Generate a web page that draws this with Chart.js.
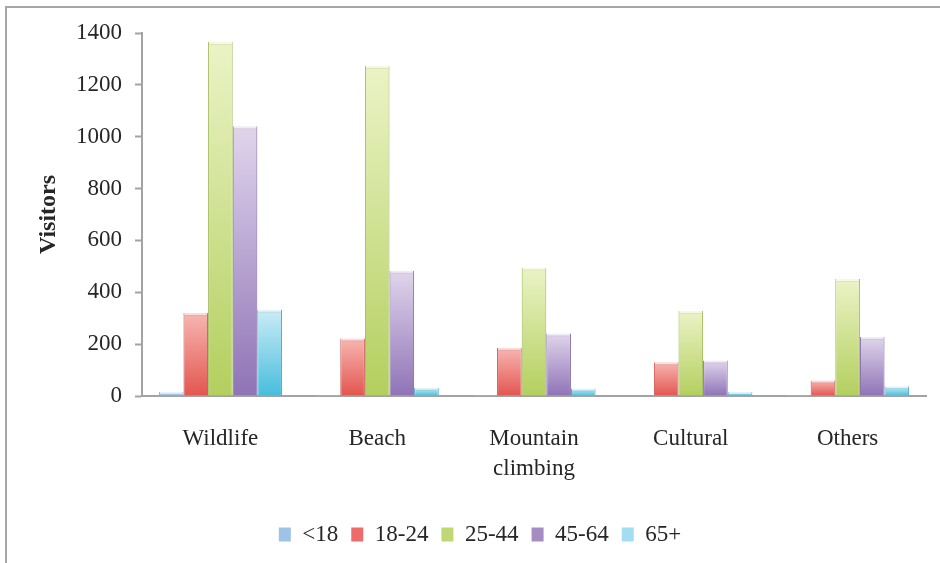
<!DOCTYPE html>
<html>
<head>
<meta charset="utf-8">
<title>Visitors by attraction and age group</title>
<script src="https://cdn.jsdelivr.net/npm/chart.js@4/dist/chart.umd.min.js"></script>
<style>
  html, body { margin: 0; padding: 0; background: #ffffff; }
  #wrap { position: relative; width: 940px; height: 563px; }
  canvas { display: block; }
</style>
</head>
<body>
<div id="wrap"><canvas id="chart" width="940" height="563"></canvas></div>
<script>
// Attractions along the x axis
const categories = ['Wildlife', 'Beach', 'Mountain climbing', 'Cultural', 'Others'];

// Age groups (one series each)
const seriesNames = ['<18', '18-24', '25-44', '45-64', '65+'];

// Visitor counts per attraction
const under18   = [16, 4, 4, 3, 4];
const age18to24 = [320, 222, 186, 130, 60];
const age25to44 = [1365, 1273, 495, 328, 451];
const age45to64 = [1040, 483, 241, 137, 228];
const age65plus = [333, 32, 29, 15, 38];

// Y axis range
const yMin = 0;
const yMax = 1400;
const yStep = 200;

// Bar shading: light at the top, saturated at the base
const shadeTop    = ['#d9eaf8', '#f7b6b2', '#ebf3c6', '#e0d5ec', '#cbecf6'];
const shadeBottom = ['#8dbbe4', '#e3554f', '#b3cf5e', '#8f73b6', '#47bddd'];
const edgeColor   = ['#7aa6cf', '#c9524d', '#9cb852', '#7e66a3', '#3fa8c6'];
const keyColor    = ['#9dc3e6', '#ee6b6b', '#bfd874', '#a78cc2', '#a2ddf0'];

const FONT = '"Liberation Serif", "Times New Roman", serif';
const TEXT = '#262626';
const AXIS = '#a3a3a3';

function barFill(i) {
  return (ctx) => {
    const chart = ctx.chart;
    if (!chart.chartArea || ctx.type !== 'data' || !chart.scales.y) return shadeBottom[i];
    const ys = chart.scales.y;
    const yTop = ys.getPixelForValue(ctx.parsed.y);
    const yBase = ys.getPixelForValue(0);
    if (!(yBase - yTop > 1)) return shadeBottom[i];
    const g = chart.ctx.createLinearGradient(0, yTop, 0, yBase);
    g.addColorStop(0, shadeTop[i]);
    g.addColorStop(1, shadeBottom[i]);
    return g;
  };
}

const values = [under18, age18to24, age25to44, age45to64, age65plus];

const datasets = seriesNames.map((name, i) => ({
  label: name,
  data: values[i],
  backgroundColor: barFill(i),
  borderColor: edgeColor[i],
  borderWidth: { left: 1, right: 1, top: 0, bottom: 0 },
  borderSkipped: 'bottom',
  categoryPercentage: 0.785,
  barPercentage: 1.0
}));

// Page frame (top and left rules) on a white background
const framePlugin = {
  id: 'frame',
  beforeDraw(chart) {
    const c = chart.ctx;
    c.save();
    c.fillStyle = '#ffffff';
    c.fillRect(0, 0, chart.width, chart.height);
    c.strokeStyle = '#a6a6a6';
    c.lineWidth = 2;
    c.beginPath();
    c.moveTo(6, chart.height);
    c.lineTo(6, 7);
    c.lineTo(chart.width, 7);
    c.stroke();
    c.restore();
  }
};

// Glossy cap along the top edge of every bar
const capPlugin = {
  id: 'caps',
  afterDatasetsDraw(chart) {
    const c = chart.ctx;
    c.save();
    chart.data.datasets.forEach((ds, di) => {
      const meta = chart.getDatasetMeta(di);
      meta.data.forEach((bar) => {
        const h = bar.base - bar.y;
        if (h < 3) return;
        const w = bar.width;
        c.fillStyle = 'rgba(255,255,255,0.55)';
        c.fillRect(bar.x - w / 2 + 1, bar.y, w - 2, 2);
        c.fillStyle = 'rgba(0,0,0,0.06)';
        c.fillRect(bar.x - w / 2 + 1, bar.y + 2, w - 2, 1);
      });
    });
    c.restore();
  }
};

new Chart(document.getElementById('chart'), {
  type: 'bar',
  data: { labels: categories, datasets },
  plugins: [framePlugin, capPlugin],
  options: {
    responsive: false,
    devicePixelRatio: 1,
    animation: false,
    layout: { padding: { left: 34, right: 14, top: 33, bottom: 7 } },
    plugins: {
      tooltip: { enabled: false },
      legend: {
        display: true,
        position: 'bottom',
        labels: {
          boxWidth: 12,
          boxHeight: 14,
          padding: 13,
          color: TEXT,
          font: { family: FONT, size: 23 },
          generateLabels: (chart) => chart.data.datasets.map((ds, i) => ({
            text: ds.label,
            fillStyle: keyColor[i],
            strokeStyle: keyColor[i],
            lineWidth: 0,
            fontColor: TEXT,
            hidden: false,
            datasetIndex: i
          }))
        }
      }
    },
    scales: {
      x: {
        grid: { display: true, drawOnChartArea: false, drawTicks: false },
        border: { display: true, color: AXIS, width: 2 },
        ticks: {
          padding: 28,
          color: TEXT,
          font: { family: FONT, size: 23, lineHeight: 1.3 },
          maxRotation: 0,
          autoSkip: false,
          callback: (v, i) => {
            const s = categories[i];
            return s.indexOf(' ') >= 0 ? s.split(' ') : s;
          }
        },
        afterFit: (scale) => { scale.height = 114; }
      },
      y: {
        min: yMin,
        max: yMax,
        grid: { display: true, drawOnChartArea: false, drawTicks: true, tickLength: 7, tickColor: AXIS, tickWidth: 2 },
        border: { display: true, color: AXIS, width: 2 },
        ticks: {
          stepSize: yStep,
          padding: 13,
          color: TEXT,
          font: { family: FONT, size: 23 },
          callback: (v) => String(v)
        },
        title: {
          display: true,
          text: 'Visitors',
          color: TEXT,
          padding: 0,
          font: { family: FONT, size: 24, weight: 'bold' }
        },
        afterFit: (scale) => { scale.width = 108; }
      }
    }
  }
});
</script>
</body>
</html>
